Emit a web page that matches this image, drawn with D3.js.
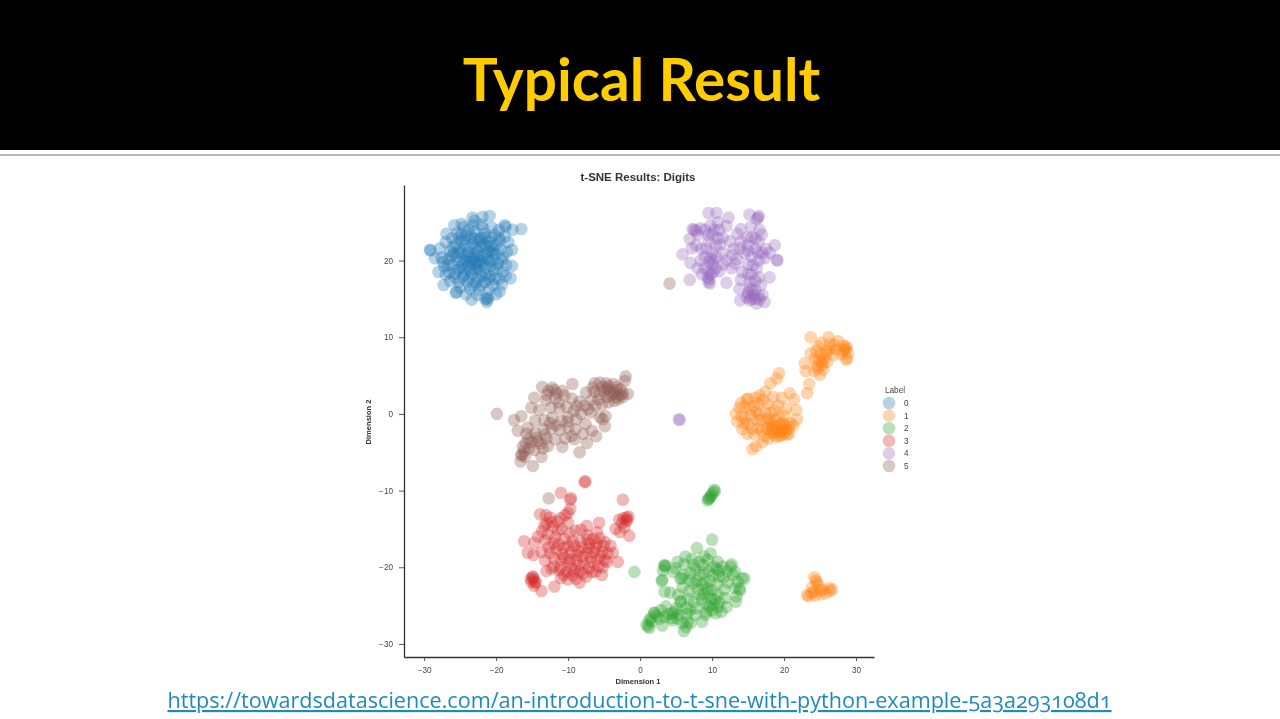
<!DOCTYPE html>
<html><head><meta charset="utf-8">
<script src="https://cdn.jsdelivr.net/npm/d3@7"></script>
<style>
html,body{margin:0;padding:0;background:#fff;overflow:hidden}
svg{display:block}
</style></head><body>
<div id="c"></div>
<script>
const labels = ["0","1","2","3","4","5"];
const colors = ["#1f77b4","#ff7f0e","#2ca02c","#d62728","#9467bd","#8c564b"];
const xTicks = [-30,-20,-10,0,10,20,30];
const yTicks = [-30,-20,-10,0,10,20];

const digit0 = [[-29.2,21.4],[-29.1,21.3],[-28.5,20.3],[-28,18.5],[-27.3,16.8],[-25.6,15.8],[-25.5,15.9],[-23.4,14.9],[-21.3,14.6],[-21.2,14.9],[-21.5,15],[-21.1,15.2],[-19.5,16],[-18,17.7],[-17.8,19.3],[-17.8,21.4],[-16.5,24.1],[-17.7,24],[-18.8,24.6],[-18.7,24.4],[-20.9,25.8],[-21.9,25.7],[-23.3,25.6],[-23,25.2],[-25.8,24.6],[-24.8,24.8],[-26.9,23.5],
[-24.5,24.4],[-23.2,24.6],[-22,24.7],[-20.6,24.3],[-19.6,24],[-25.4,23.6],[-24.1,23.3],[-23,23.8],[-21.6,23.5],[-20.2,23.4],[-18.8,23.1],[-26.1,22.9],[-24.8,22.6],[-22.5,22.8],[-21.1,22.5],[-19.5,22.6],[-18.3,22.4],[-27,22.4],[-25.6,22.1],[-24.3,21.9],[-23.3,22.2],[-22,21.8],[-20.7,21.9],[-19.4,21.5],[-18.5,21.1],[-27.8,21.6],[-26.4,21.2],[-25.1,21.5],[-23.9,21],[-22.6,21.2],[-21.4,20.9],[-20.1,20.8],[-19,20.4],[-27.6,20.4],[-26.7,20.2],[-25.5,20.5],[-24.4,20.1],[-23.2,20.3],[-22.1,20],[-20.9,19.9],[-19.7,19.6],[-18.6,19.4],[-27.2,19.2],[-26,19.4],[-24.9,19.1],[-23.8,19.3],[-22.7,19],[-21.5,19.1],[-20.3,18.8],[-19.1,18.5],[-27,18.2],[-25.7,18.3],[-24.4,18.1],[-23.3,18.3],[-22,18],[-20.8,17.9],[-19.6,17.6],[-18.7,18],[-26.4,17.3],[-25.2,17.2],[-24,17.2],[-22.8,17.1],[-21.6,17.2],[-20.4,16.8],[-19.2,16.9],[-25,16.5],[-23.6,16.3],[-22.4,16.2],[-21,16.2],[-20,15.6],[-24.2,15.6],[-22.6,15.5],[-23,20.8],[-22.4,20.6],[-24,19.8],[-21.8,19.6],[-23.6,21.7],[-21,21.2],[-25.2,19.9],[-20.4,20.2],[-22.2,22.5],[-23.6,18.7],[-20.7,23],[-26,21.8],[-21.4,18.2],[-24.8,23.4],[-22.5,17.6],
[-26.6,19.4],[-25.9,20.9],[-25.3,18.8],[-24.7,21.1],[-24.6,19.5],[-24,20.6],[-23.7,17.7],[-23.4,19.8],[-23.1,22.9],[-23,18.9],[-22.8,21.6],[-22.4,19.5],[-22.2,18.6],[-21.9,20.5],[-21.7,22.1],[-21.2,20.2],[-21,17.6],[-20.7,19.3],[-20.5,21],[-20,22],[-19.9,19],[-25.8,17.8],[-26.5,18.4],[-24.6,17.8],[-23.2,16.8],[-22,16.8],[-20.2,17.6],[-19.2,20.1],[-25.2,23],[-23.8,24],[-21.8,24.2],[-19.6,23],[-24.3,22.7],[-22.9,19.6],[-22.5,19.9],[-21.2,21.8],[-23.6,20.3],[-24.5,18.7],[-26.2,20.6],[-20.3,21.4],[-27.4,19.8],[-23.5,23.1],[-21.5,23],[-25.1,21],[-22.1,22.9]];

const digit1 = [[23.7,10],[26.2,10],[27.5,9.5],[28.7,8.6],[28.6,8.8],[28.5,8.4],[28.3,8.3],[28.9,7.9],[28.8,7.2],[28.6,7.1],[26.9,7.7],[23.7,7.9],[22.9,6.6],[23,5.6],[25,5.1],[25.4,6.4],[24.6,6.3],[24.8,7],[25.6,7.2],[25.9,8.2],[24.8,8.8],[25.2,9.3],[26.4,9.1],[27.3,8.4],[24.2,5.6],[25.5,5.8],[25.1,7.8],[26,6.8],[24.3,7.2],[25.2,6.8],[24.7,5.9],[25.9,7.8],[26.4,8.5],[28,7.8],[28.2,8.9],[24.5,8.2],[27,9],
[19.3,5.3],[19,4.6],[18.1,4],[23.5,3.9],[23.2,2.7],[20.8,2.7],[18.5,2.2],[17.4,2.9],[16.6,2.4],[19.7,2.1],[21.4,1.9],[21.7,0.5],[21.8,-0.7],[21.3,-1.5],
[15.6,-4.6],[16.1,-4.2],[17,-3.7],[13.8,0.8],[13.3,0],[13.5,-1],[14.2,-2],[15,2],[14.6,1],[15.4,-0.2],[15,-1.3],[15.8,-2.6],[16.4,1.4],[16.1,0.3],[16.8,-0.8],[16.4,-1.8],[17.2,-2.9],[17.7,1.3],[17.4,0.2],[18,-0.9],[17.6,-1.9],[18.5,-2.7],[18.9,-1.6],[18.7,0.5],[19.3,-0.4],[19.8,-1.2],[19.5,-2.3],[20.4,-2.1],[20.1,-0.2],[20.9,-1.2],[20.4,-2.7],[19,-1.9],[19.6,-2.8],[18.7,-2.3],[20.7,-1.8],[19.2,1.1],[15.8,1],[14.6,-0.6],[20.3,0.7],[16.9,-2.2],[18.1,-2.4],[19.9,-1.7],
[14,1.4],[14.8,1.9],[15.3,0.6],[14.1,-0.3],[14.4,-1.2],[15.6,-1.9],[16.2,-0.8],[16.6,-0.1],[17.1,1.8],[17.7,-0.6],[18.2,0.1],[18.3,-1.5],[18.8,-0.7],[19.4,-1.4],[19.3,-2.9],[20.2,-1.4],[20,-2.5],[18.9,-3],[17.8,-3.2],[20.7,-2.6],[19.7,-2.1],[18.4,-2],[17.9,-1.4],[16,2.1],[14.9,-2.6]];

const digit1b = [[24.2,-21.3],[24.4,-21.7],[23.4,-23.8],[23.2,-23.6],[26.7,-22.9],[26.4,-23.1],[25.1,-23.5],[24.3,-23.7],[25.4,-22.9],[23.9,-22.6],[24.7,-22.3],[24.6,-21.9],[24.1,-23.2],[25.8,-23.4],[23.8,-23.4],[26.3,-22.7],[25,-23]];

const digit2 = [[10.3,-9.9],[10.4,-10.1],[10.1,-10.3],[9.9,-10.6],[9.6,-11],[9.4,-11.3],[9.5,-11.1],[9.8,-10.8],
[-0.8,-20.6],[10,-16.4],[7.9,-17.5],[6.3,-18.6],[9.8,-18.2],[3.4,-19.7],[3.5,-19.8],[3.1,-21.6],[3,-21.8],[4.2,-23.3],[5.6,-24.4],[5.7,-24.5],[2,-25.9],[2,-26],[1.5,-26.6],[0.9,-27.5],[1.3,-27.9],[1.1,-27.7],[3.1,-27.6],[4.5,-26.9],[4.4,-26.6],[6.1,-28.3],[6.4,-27.8],[6.6,-27.1],[8.6,-27.1],[12,-25.2],[13.3,-24.5],[13.9,-23],[13.8,-22.8],[14.5,-21.5],[14.2,-21.4],[12.6,-19.9],[12.7,-19.6],[10.8,-19.3],[8.9,-18.6],[7.2,-18.9],[6.1,-19.6],[7.7,-20.3],[8.7,-19.7],[9.5,-20.5],[8.3,-21],[7.9,-21.8],[9,-22],[10.1,-21],[11,-20.5],[11.6,-21.3],[12.9,-21],[13.2,-20.6],[10.7,-22.2],[9.3,-22.8],[8,-22.9],[6.8,-23.1],[5.9,-22.6],[11.7,-22.9],[13.2,-22.7],[11.8,-24],[10.8,-23.6],[9.9,-24.1],[8.6,-24.2],[7.5,-24.5],[6.4,-25.3],[9.6,-25.1],[9.2,-24.8],[10.8,-25.2],[11,-24.6],[4.8,-25.8],[3.4,-26.5],[2.9,-25.6],[5.4,-26.2],[5.2,-26.7],[6.5,-26.1],[7.7,-26.2],[7.8,-25.3],[9.1,-26.2],[10.5,-26],[3.6,-25.1],[4.5,-26],[2.7,-26.7],[8.8,-20.7],[11.5,-19.9],[8.9,-23.5],[10,-23],[4.9,-20.1],[6.9,-21.7],[7,-27.3],[10.2,-24.8],
[8.2,-19.3],[9.4,-19],[10.2,-19.9],[7.4,-19.7],[7,-20.7],[8.6,-22.2],[9.7,-21.8],[10.6,-20.2],[12.1,-20.5],[12.2,-22],[13.6,-21.9],[13.4,-23.8],[11,-21.2],[8.3,-23.6],[9.2,-25.8],[10,-25.6],[11.3,-25.8],[10.4,-24.2],[9.5,-23.3],[7.4,-22.1],[2.3,-26.3],[3.9,-26.1],[5.1,-25.3],[6.9,-25.6],[1.6,-27.1],[1.3,-26.9],[5.9,-27.3],
[5.8,-21.4],[5.6,-21.5],[4.6,-20.6],[3.2,-20.4],[3.4,-19.9],[3.4,-23.2],[5.3,-23.6],[6.1,-21],[5.2,-19.3],[6.7,-24.1]];

const digit3 = [[-7.6,-8.8],[-7.7,-8.9],[-11,-10.3],[-9.7,-11.2],[-9.6,-11],[-2.4,-11.2],[-1.9,-13.5],[-1.8,-13.8],[-1.9,-14],[-1.6,-13.4],[-2.5,-14.2],[-1.5,-15.9],[-2.8,-15.4],[-3.4,-15],[-2.9,-13.8],[-5.7,-14.2],[-16.1,-16.6],[-15.6,-18.1],[-14.9,-21.3],[-14.8,-21.6],[-15.1,-21.9],[-14.6,-22],[-14.9,-21.2],[-14.7,-22.4],[-13.7,-23.1],[-11.9,-22.5],[-8.4,-22],[-5.3,-21],[-3.1,-19.3],[-3.8,-18.1],[-6,-15.4],[-7.4,-14.6],[-9.7,-12.4],[-10,-12.9],[-13.1,-13.2],[-13.9,-13.1],[-12.5,-13.5],[-13,-14.3],[-12.1,-14.7],[-11,-13.6],[-10.9,-15],[-10,-14.2],[-9,-15.2],[-8.2,-15.1],[-7.4,-15.8],[-14.7,-16.8],[-14.2,-16],[-13.6,-15.3],[-12.8,-15.7],[-11.8,-16.1],[-10.5,-16.3],[-9.4,-16.6],[-8.3,-16.6],[-7,-16.9],[-6,-16.9],[-5.1,-17.2],[-4.5,-18.2],[-14.8,-18.4],[-13.7,-18],[-12.7,-17.4],[-11.6,-17.6],[-10.6,-17.5],[-9.6,-18],[-8.5,-17.9],[-7.4,-18.1],[-6.4,-18],[-5.5,-18.5],[-4.6,-19.3],[-13.2,-19.1],[-12,-18.8],[-11,-19],[-9.9,-19.4],[-8.8,-19.1],[-7.8,-19.5],[-6.8,-19.3],[-5.8,-19.9],[-12.3,-20.2],[-11.2,-20.4],[-10.2,-20.6],[-9.1,-20.5],[-7.9,-20.8],[-6.7,-20.6],[-11,-21.4],[-10,-21.6],[-8.9,-21.5],[-7.5,-21.2],[-9.5,-20.1],[-10.8,-18.3],[-8,-18.6],[-6,-19],[-11.4,-15.2],[-12,-16.8],[-7.1,-17.5],[-13,-20.5],
[-12.4,-14.1],[-13.3,-14.6],[-11.5,-14],[-10.4,-13.2],[-9.8,-15.6],[-9.1,-17.2],[-8,-17.4],[-6.9,-18.7],[-6.2,-17.4],[-5.6,-16.2],[-4.9,-16.7],[-4.1,-17.2],[-4.9,-19.1],[-5.2,-20],[-6.2,-20.6],[-7.1,-20.1],[-8.4,-19.8],[-9.7,-19],[-10.5,-18.8],[-11.3,-17],[-12.5,-18.1],[-13.2,-16.5],[-12,-19.9],[-11,-20],[-10,-17.2],[-8.9,-18.4],[-7.3,-16.4],[-6.5,-16.3],[-5.3,-18],[-9.4,-21],[-8.4,-20.6],[-10.6,-21],[-14.5,-21.9],[-15.2,-21.5],[-2.3,-13.6],[-2.2,-14.8]];

const digit4 = [[9.5,26.2],[10.6,26.2],[12.3,25.6],[7.3,24.1],[7.5,24],[7.8,23.9],[6.9,22.8],[7.2,21.6],[5.9,20.8],[7,19.7],[6.9,17.5],[9.4,17.8],[9.6,17.6],[9.5,17.2],[9.7,17],[12,17.1],[13.8,16.3],[13.9,14.8],[15.2,14.8],[16.2,14.4],[17.3,14.6],[18,17.8],[19,20.1],[19.1,20],[18.7,22],[16.5,25.8],[16.4,25.6],[16.2,25.4],[15.2,26],[14,24.1],[16.6,24],
[9,24],[10,23.5],[11,24],[11.5,23],[12,24.5],[9.5,22.5],[10.5,22],[8.5,21.5],[9,20.5],[10,21],[11.5,21],[10,19.5],[10.5,19],[11.5,19.5],[9,19],[8,19],[9.5,18.5],[9.8,18.2],[10.2,20],[12,20],[13.5,20.2],[13,21.5],[14,22.5],[13.5,23.5],[15,22],[15.5,23],[14.5,21],[15.5,20.5],[16,21.5],[16.5,22.5],[17,21],[17.5,21.5],[18,21],[16.5,20],[15,19.5],[16.2,19],[15.5,18.2],[14.2,18.5],[14,17.5],[16.5,17.8],[15.3,16.5],[15,15.8],[15.8,15.5],[16,16.2],[16.5,15.3],[15.5,15],[14.8,15.2],[17,15.5],[16.8,16.8],[15.2,17.2],[7.8,22],[12.5,22.5],[5.4,-0.7],[5.5,-0.8],
[8,23.4],[8.4,24.2],[9.8,24.6],[10.8,25],[10.3,24],[10.8,22.9],[9.8,20.3],[9.2,21.5],[8.4,20],[10.6,20.5],[11,18.6],[9.6,19.8],[10.2,18.5],[8.6,18.2],[12.8,20.7],[13.2,19.6],[13.9,21.6],[14.9,23],[15,21.3],[16,22.9],[16.9,23.4],[15.4,24.4],[16.4,21],[17.3,20.3],[15.7,19.4],[15,18.2],[16,17.4],[15.5,16.2],[16,15],[15.1,15.5],[16.6,14.9],[9.5,23.3],[11.1,22.1],[12.7,19]];

const digit5 = [[-19.9,0],[4.1,17],[-12.7,-11],[-2,4.9],[-2.1,4.3],[-2.4,2.2],[-1.7,2.6],[-4.9,-1.6],[-6.1,-2.9],[-7.4,-3.8],[-8.4,-5],[-10.8,-4.3],[-14.9,-6.8],[-16.6,-6.2],[-16.5,-5.4],[-16.4,-5.3],[-13.7,-5.6],[-17,-2.2],[-17.5,-0.8],[-16.5,-0.3],[-15.1,0.8],[-14.7,2.1],[-13.6,3.5],[-12.2,3.4],[-9.4,3.9],[-6.3,4],[-4.7,4],[-4.4,3.6],[-5.6,4.1],[-3.7,3.9],[-2.7,3.2],[-3.2,2.2],[-3.6,2.7],[-4.1,2.4],[-3,1.9],[-2.8,2.5],[-5,3],[-5.6,2.6],[-6.3,2.9],[-6.8,1.8],[-5.3,1.2],[-4.4,1.5],[-4.8,-0.3],[-5.6,-0.4],[-5.2,-0.7],[-6.8,0.2],[-7.7,1.1],[-8.4,1.6],[-9.5,2],[-10.5,2.4],[-11.6,2.7],[-11.8,2],[-12.7,3],[-13.1,1.8],[-14,0.5],[-12.4,0.8],[-11.2,0.7],[-10.2,0.9],[-9.2,0.4],[-8.2,0],[-7.6,-1.3],[-8.9,-0.7],[-10,-0.4],[-10.9,-0.9],[-12.2,-0.5],[-13.3,-0.8],[-14.6,-0.9],[-15.6,-1.8],[-14.6,-2.5],[-13.4,-2],[-12.3,-1.9],[-11.1,-2.1],[-10,-1.8],[-9,-2],[-7.9,-2.6],[-6.7,-2.2],[-15.5,-3.3],[-14.2,-3.5],[-13,-3.2],[-11.8,-3.3],[-10.4,-3.2],[-9.1,-3.3],[-15.4,-4.5],[-16.1,-4.8],[-14.7,-4.7],[-13.5,-4.5],[-16,-5.6],[-5.8,1.9],[-7.5,2.8],[-3.3,3.1],[-4.6,3.3],
[-16.3,-4.3],[-15.8,-2.6],[-15.1,-3.7],[-14.4,-3.1],[-13.8,-3.9],[-13.2,-2.7],[-12.5,-1.2],[-11.7,-1.5],[-11.3,1.5],[-10.8,3],[-11.9,3.1],[-13,2.5],[-6.6,3.4],[-5.2,3.5],[-4.2,3],[-3.6,1.7],[-6.2,1.1],[-4.6,2.2],[-7.2,0.6],[-8.8,1],[-10.1,-1],[-9.5,-2.9],[-12.8,-4.2],[-15.9,-3.8],[-3.2,3.5],[-2.4,2.7]];

const W = 1280, H = 719;
const svg = d3.select("#c").append("svg").attr("width",W).attr("height",H)
  .attr("viewBox",`0 0 ${W} ${H}`);

svg.append("rect").attr("width",W).attr("height",150).attr("fill","#000");
svg.append("rect").attr("y",154).attr("width",W).attr("height",2).attr("fill","#b8b8b8");

svg.append("text").attr("x",641.5).attr("y",101).attr("text-anchor","middle")
  .attr("font-family","Lato").attr("font-weight",700).attr("font-size",58.5)
  .attr("fill","#ffcc00").text("Typical Result");

const chart = svg.append("g").style("filter","blur(0.6px)");

const x = d3.scaleLinear().domain([-32.8,32.5]).range([404,874]);
const y = d3.scaleLinear().domain([-31.7,29.85]).range([657,185]);
const fmt = d => d<0 ? "\u2212"+Math.abs(d) : String(d);

const axisFont = "Liberation Sans";
const xAxis = chart.append("g").attr("transform",`translate(0,${y.range()[0]})`)
  .call(d3.axisBottom(x).tickValues(xTicks).tickFormat(fmt).tickSizeOuter(0).tickSizeInner(4).tickPadding(6));
const yAxis = chart.append("g").attr("transform",`translate(${x.range()[0]},0)`)
  .call(d3.axisLeft(y).tickValues(yTicks).tickFormat(fmt).tickSizeOuter(0).tickSizeInner(5).tickPadding(6));
[xAxis,yAxis].forEach(a=>{
  a.selectAll("path").attr("stroke","#333").attr("stroke-width",1.3);
  a.selectAll("line").attr("stroke","#444").attr("stroke-width",0.9);
  a.selectAll("text").attr("font-family",axisFont).attr("font-size",8.2).attr("fill","#444");
});

const series = [
  {label:0,data:digit0},{label:1,data:digit1.concat(digit1b)},{label:2,data:digit2},
  {label:3,data:digit3},{label:4,data:digit4},{label:5,data:digit5}];
series.forEach(s=>{
  chart.append("g").selectAll("circle").data(s.data).join("circle")
    .attr("cx",d=>x(d[0])).attr("cy",d=>y(d[1])).attr("r",6.3)
    .attr("fill",colors[s.label]).attr("fill-opacity",0.33);
});

chart.append("text").attr("x",638).attr("y",181).attr("text-anchor","middle")
  .attr("font-family",axisFont).attr("font-weight",700).attr("font-size",11.5).attr("fill","#333")
  .text("t-SNE Results: Digits");
chart.append("text").attr("x",638).attr("y",684).attr("text-anchor","middle")
  .attr("font-family",axisFont).attr("font-weight",700).attr("font-size",7.6).attr("fill","#333")
  .text("Dimension 1");
chart.append("text").attr("transform","translate(371,422) rotate(-90)").attr("text-anchor","middle")
  .attr("font-family",axisFont).attr("font-weight",700).attr("font-size",7.6).attr("fill","#333")
  .text("Dimension 2");

const legendY = d3.scalePoint().domain(labels).range([403,466]);
chart.append("text").attr("x",885).attr("y",393).attr("font-family",axisFont)
  .attr("font-size",8.2).attr("fill","#444").text("Label");
const leg = chart.append("g").selectAll("g").data(labels).join("g")
  .attr("transform",d=>`translate(889,${legendY(d)})`);
leg.append("circle").attr("r",6.3).attr("fill",(d,i)=>colors[i]).attr("fill-opacity",0.33);
leg.append("text").attr("x",15).attr("y",3).attr("font-family",axisFont)
  .attr("font-size",8.2).attr("fill","#444").text(d=>d);

svg.append("text").attr("x",639.5).attr("y",708).attr("text-anchor","middle")
  .attr("font-family","Open Sans").attr("font-size",21.6).attr("fill","#1d8ac0")
  .style("text-decoration","underline").style("font-feature-settings","'onum'")
  .text("https://towardsdatascience.com/an-introduction-to-t-sne-with-python-example-5a3a293108d1");
</script>
</body></html>
